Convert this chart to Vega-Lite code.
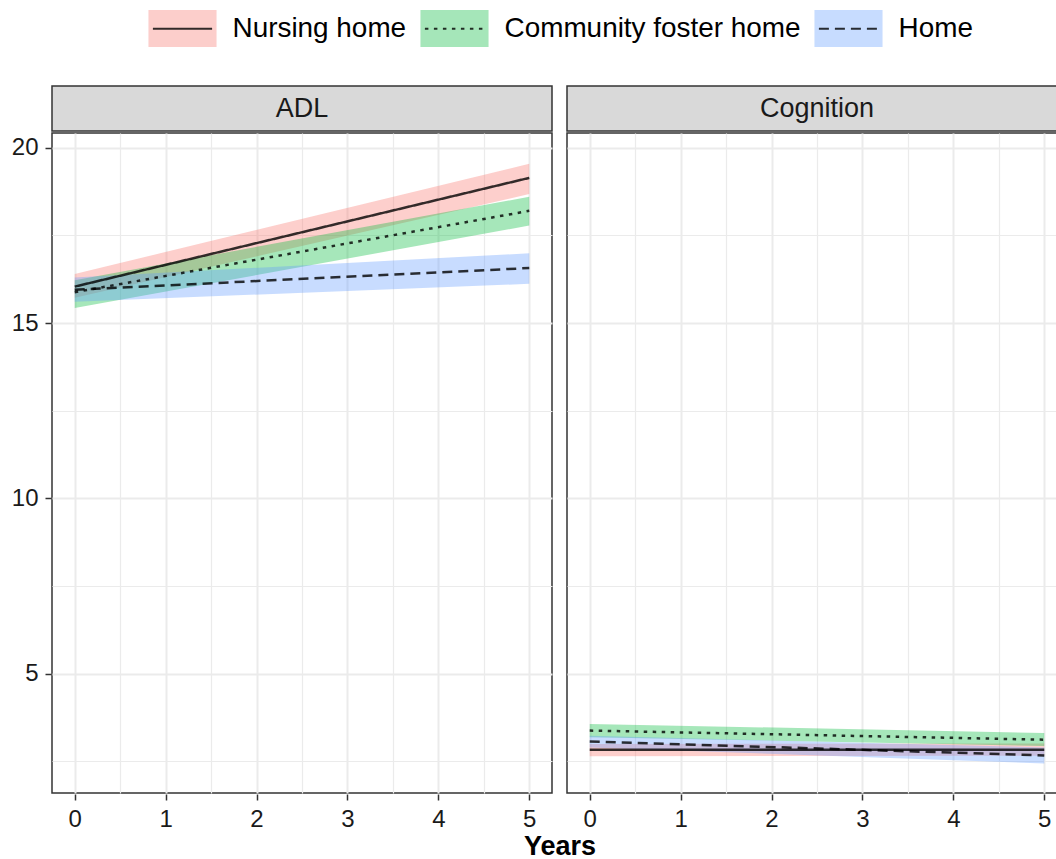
{
  "$schema": "https://vega.github.io/schema/vega-lite/v6.json",
  "autosize": {"type": "pad"},
  "padding": {"left": 11, "top": 9, "right": 0, "bottom": 0},
  "background": "white",
  "datasets": {
    "strips": [{"measure": "ADL"}, {"measure": "Cognition"}],
    "fits": [
      {"measure": "ADL", "group": "Nursing home", "year": 0, "est": 16.04, "lo": 15.72, "hi": 16.40},
      {"measure": "ADL", "group": "Nursing home", "year": 5, "est": 19.14, "lo": 18.68, "hi": 19.54},
      {"measure": "ADL", "group": "Community foster home", "year": 0, "est": 15.88, "lo": 15.43, "hi": 16.22},
      {"measure": "ADL", "group": "Community foster home", "year": 5, "est": 18.20, "lo": 17.78, "hi": 18.60},
      {"measure": "ADL", "group": "Home", "year": 0, "est": 15.95, "lo": 15.61, "hi": 16.30},
      {"measure": "ADL", "group": "Home", "year": 5, "est": 16.57, "lo": 16.12, "hi": 16.99},
      {"measure": "Cognition", "group": "Nursing home", "year": 0, "est": 2.83, "lo": 2.65, "hi": 3.00},
      {"measure": "Cognition", "group": "Nursing home", "year": 5, "est": 2.83, "lo": 2.66, "hi": 3.01},
      {"measure": "Cognition", "group": "Community foster home", "year": 0, "est": 3.38, "lo": 3.19, "hi": 3.57},
      {"measure": "Cognition", "group": "Community foster home", "year": 5, "est": 3.12, "lo": 2.94, "hi": 3.31},
      {"measure": "Cognition", "group": "Home", "year": 0, "est": 3.07, "lo": 2.90, "hi": 3.23},
      {"measure": "Cognition", "group": "Home", "year": 5, "est": 2.67, "lo": 2.44, "hi": 2.90}
    ]
  },
  "spacing": 0,
  "vconcat": [
    {
      "data": {"name": "strips"},
      "facet": {"column": {"field": "measure", "type": "nominal", "sort": ["ADL", "Cognition"], "header": null}},
      "spacing": 13,
      "spec": {
        "width": 500,
        "height": 45,
        "view": {"fill": "#D9D9D9", "stroke": "#333333", "strokeWidth": 1.5},
        "mark": {"type": "text", "fontSize": 27, "font": "Liberation Sans", "color": "#1A1A1A", "align": "center", "baseline": "middle"},
        "encoding": {
          "text": {"field": "measure", "type": "nominal"},
          "y": {
            "datum": 1, "type": "quantitative",
            "scale": {"domain": [0, 2], "nice": false},
            "axis": {"title": null, "values": [1], "labelExpr": "'20'", "labelOpacity": 0, "tickOpacity": 0, "grid": false}
          }
        }
      }
    },
    {
      "data": {"name": "fits"},
      "facet": {
        "column": {
          "field": "measure", "type": "nominal", "sort": ["ADL", "Cognition"],
          "header": {"labels": false, "title": "Years", "titleOrient": "bottom", "titleFontSize": 27, "titleFontWeight": "bold", "titleColor": "#000000", "titleFont": "Liberation Sans", "titlePadding": -7}
        }
      },
      "spacing": 13,
      "spec": {
        "width": 500,
        "height": 660,
        "view": {"stroke": "#333333", "strokeWidth": 1.5},
        "encoding": {
          "x": {
            "field": "year", "type": "quantitative",
            "scale": {"domain": [-0.25, 5.25], "nice": false, "zero": false},
            "axis": {
              "title": null,
              "format": "~g",
              "values": [0, 0.5, 1, 1.5, 2, 2.5, 3, 3.5, 4, 4.5, 5],
              "labelExpr": "datum.value % 1 === 0 ? datum.label : ''",
              "tickOpacity": {"condition": {"test": "datum.value % 1 === 0", "value": 1}, "value": 0},
              "gridWidth": {"condition": {"test": "datum.value % 1 === 0", "value": 2}, "value": 1.2},
              "labelFlush": false
            }
          }
        },
        "layer": [
          {
            "mark": {"type": "area", "opacity": 0.35},
            "encoding": {
              "y": {
                "field": "lo", "type": "quantitative",
                "scale": {"domain": [1.6, 20.42], "nice": false, "zero": false},
                "axis": {
                  "title": null,
                  "format": "~g",
                  "values": [2.5, 5, 7.5, 10, 12.5, 15, 17.5, 20],
                  "labelExpr": "datum.value === 5 ? '5\u00a0\u00a0' : (datum.value % 5 === 0 ? datum.label : '')",
                  "tickOpacity": {"condition": {"test": "datum.value % 5 === 0", "value": 1}, "value": 0},
                  "gridWidth": {"condition": {"test": "datum.value % 5 === 0", "value": 2}, "value": 1.2}
                }
              },
              "y2": {"field": "hi"},
              "color": {
                "field": "group", "type": "nominal",
                "scale": {"domain": ["Nursing home", "Community foster home", "Home"], "range": ["#F8766D", "#00BA38", "#619CFF"]},
                "legend": {
                  "orient": "none", "legendX": 111, "legendY": -77, "direction": "horizontal", "columns": 3,
                  "title": null, "symbolType": "M-1.84,-1H1.84V1H-1.84Z", "symbolSize": 1369,
                  "symbolStrokeWidth": 2, "symbolStrokeColor": "transparent", "symbolOpacity": 0.35,
                  "labelFontSize": 27.9, "labelFont": "Liberation Sans", "labelColor": "#000000",
                  "labelOffset": 30.5, "columnPadding": 9, "labelLimit": 600
                }
              }
            }
          },
          {
            "mark": {"type": "line", "color": "black", "opacity": 0.8, "strokeWidth": 2.5},
            "encoding": {
              "y": {"field": "est", "type": "quantitative"},
              "strokeDash": {
                "field": "group", "type": "nominal",
                "sort": ["Nursing home", "Community foster home", "Home"],
                "scale": {"range": [[1, 0], [3.5, 5.5], [10, 6]]},
                "legend": {
                  "orient": "none", "legendX": 111, "legendY": -77, "direction": "horizontal", "columns": 3,
                  "title": null, "symbolType": "M-1.84,0M-1.6,0H1.6M1.84,0", "symbolSize": 1369,
                  "symbolStrokeColor": "black", "symbolStrokeWidth": 2,
                  "labelFontSize": 27.9, "labelFont": "Liberation Sans", "labelOpacity": 0,
                  "labelOffset": 30.5, "columnPadding": 9, "labelLimit": 600
                }
              }
            }
          }
        ]
      }
    }
  ],
  "config": {
    "font": "Liberation Sans",
    "axis": {
      "domain": false,
      "gridColor": "#EBEBEB",
      "tickColor": "#333333",
      "tickWidth": 1.5,
      "tickSize": 6,
      "labelColor": "#1A1A1A",
      "labelFontSize": 24,
      "labelFont": "Liberation Sans",
      "labelPadding": 7
    }
  }
}
